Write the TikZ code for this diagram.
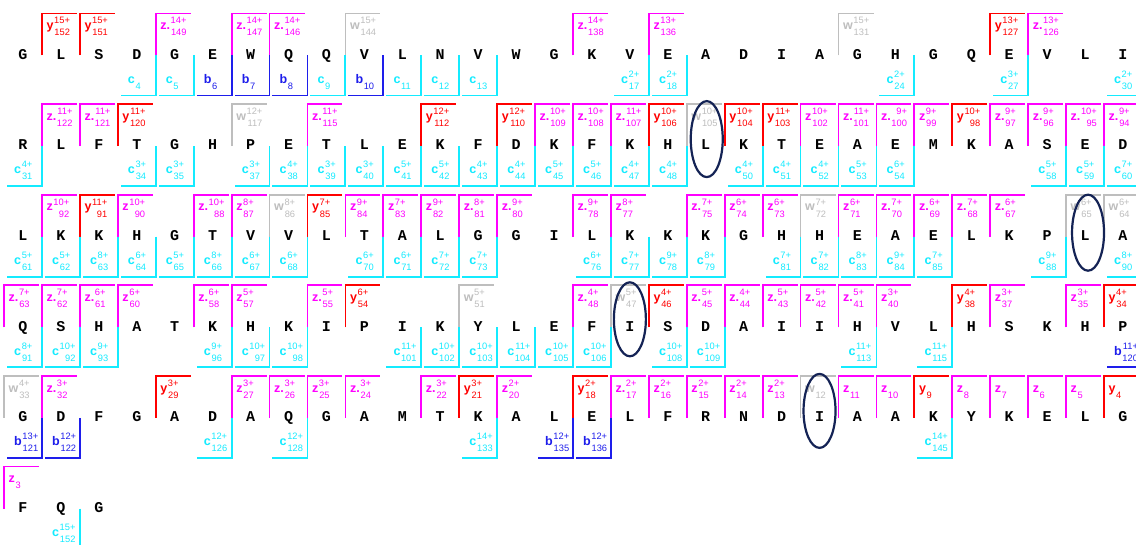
\documentclass[tikz,border=0pt]{standalone}
\usepackage{fontspec}
\setmainfont{Liberation Sans}
\newfontfamily\resfont{Liberation Mono}
\usetikzlibrary{calc}
\definecolor{colz}{RGB}{255,0,255}
\definecolor{colZ}{RGB}{255,0,255}
\definecolor{coly}{RGB}{255,0,0}
\definecolor{colw}{RGB}{190,190,190}
\definecolor{colc}{RGB}{20,235,255}
\definecolor{colb}{RGB}{30,30,235}
\definecolor{navy}{RGB}{20,35,85}
\def\ilz{z}\def\ilZ{z.}\def\ily{y}\def\ilw{w}\def\ilc{c}\def\ilb{b}
\newcommand{\ionlab}[3]{{\fontsize{12.5}{12}\selectfont\bfseries #1}\hspace{0.6pt}{\fontsize{9.3}{12}\selectfont\begin{tabular}{@{}r@{}}#2\\#3\end{tabular}}}
\newcommand{\seqrow}[4]{%
  \foreach \resl [count=\jj from 0] in {#2} {
    \coordinate (p#1-\jj) at (23+37.93*\jj, 54.5+90.6*#1);
    \node[res] (r#1-\jj) at (p#1-\jj) {\resl};
  }
  \foreach \jj/\tp/\qq/\nn in {#3} {
    \draw[br, color=col\tp] ($(p#1-\jj)+(-18.95,1)$) -- ++(0,-42) -- ++(35,0);
    \node[lab, color=col\tp] (ct#1-\jj) at ($(p#1-\jj)+(-14.5,-27)$) {\ionlab{\csname il\tp\endcsname}{\qq}{\nn}};
  }
  \foreach \jj/\tp/\qq/\nn in {#4} {
    \draw[br, color=col\tp] ($(p#1-\jj)+(18.95,1)$) -- ++(0,40) -- ++(-35,0);
    \node[lab, color=col\tp] (nt#1-\jj) at ($(p#1-\jj)+(-9,26.5)$) {\ionlab{\csname il\tp\endcsname}{\qq}{\nn}};
  }
}
\begin{document}
\begin{tikzpicture}[x=1pt,y=-1pt,
  res/.style={font=\resfont\bfseries\fontsize{15}{15}\selectfont, inner sep=0pt, text height=9.6pt, text depth=0pt},
  br/.style={line width=1.8pt, line join=miter},
  lab/.style={inner sep=0pt, anchor=west},
  ell/.style={draw=navy, line width=2.2pt}]
\useasboundingbox (0,0) rectangle (1136,545);
\fill[white] (0,0) rectangle (1136,545);
\clip (0,0) rectangle (1136,545);
\seqrow{0}{G,L,S,D,G,E,W,Q,Q,V,L,N,V,W,G,K,V,E,A,D,I,A,G,H,G,Q,E,V,L,I}
{1/y/15+/152, 2/y/15+/151, 4/Z/14+/149, 6/Z/14+/147, 7/Z/14+/146, 9/w/15+/144, 15/Z/14+/138, 17/z/13+/136, 22/w/15+/131, 26/y/13+/127, 27/Z/13+/126}
{3/c/{}/4, 4/c/{}/5, 5/b/{}/6, 6/b/{}/7, 7/b/{}/8, 8/c/{}/9, 9/b/{}/10, 10/c/{}/11, 11/c/{}/12, 12/c/{}/13, 16/c/2+/17, 17/c/2+/18, 23/c/2+/24, 26/c/3+/27, 29/c/2+/30}
\seqrow{1}{R,L,F,T,G,H,P,E,T,L,E,K,F,D,K,F,K,H,L,K,T,E,A,E,M,K,A,S,E,D}
{1/Z/11+/122, 2/Z/11+/121, 3/y/11+/120, 6/w/12+/117, 8/Z/11+/115, 11/y/12+/112, 13/y/12+/110, 14/Z/10+/109, 15/Z/10+/108, 16/Z/11+/107, 17/y/10+/106, 18/w/10+/105, 19/y/10+/104, 20/y/11+/103, 21/z/10+/102, 22/Z/11+/101, 23/Z/9+/100, 24/z/9+/99, 25/y/10+/98, 26/Z/9+/97, 27/Z/9+/96, 28/Z/10+/95, 29/Z/9+/94}
{0/c/4+/31, 3/c/3+/34, 4/c/3+/35, 6/c/3+/37, 7/c/4+/38, 8/c/3+/39, 9/c/3+/40, 10/c/5+/41, 11/c/5+/42, 12/c/4+/43, 13/c/4+/44, 14/c/5+/45, 15/c/5+/46, 16/c/4+/47, 17/c/4+/48, 19/c/4+/50, 20/c/4+/51, 21/c/4+/52, 22/c/5+/53, 23/c/6+/54, 27/c/5+/58, 28/c/5+/59, 29/c/7+/60}
\seqrow{2}{L,K,K,H,G,T,V,V,L,T,A,L,G,G,I,L,K,K,K,G,H,H,E,A,E,L,K,P,L,A}
{1/z/10+/92, 2/y/11+/91, 3/z/10+/90, 5/Z/10+/88, 6/z/8+/87, 7/w/8+/86, 8/y/7+/85, 9/z/9+/84, 10/z/7+/83, 11/z/9+/82, 12/Z/8+/81, 13/Z/9+/80, 15/Z/9+/78, 16/z/8+/77, 18/Z/7+/75, 19/z/6+/74, 20/z/6+/73, 21/w/7+/72, 22/z/6+/71, 23/Z/7+/70, 24/Z/6+/69, 25/Z/7+/68, 26/Z/6+/67, 28/w/6+/65, 29/w/6+/64}
{0/c/5+/61, 1/c/5+/62, 2/c/8+/63, 3/c/6+/64, 4/c/5+/65, 5/c/8+/66, 6/c/6+/67, 7/c/6+/68, 9/c/6+/70, 10/c/6+/71, 11/c/7+/72, 12/c/7+/73, 15/c/6+/76, 16/c/7+/77, 17/c/9+/78, 18/c/8+/79, 20/c/7+/81, 21/c/7+/82, 22/c/8+/83, 23/c/9+/84, 24/c/7+/85, 27/c/9+/88, 29/c/8+/90}
\seqrow{3}{Q,S,H,A,T,K,H,K,I,P,I,K,Y,L,E,F,I,S,D,A,I,I,H,V,L,H,S,K,H,P}
{0/Z/7+/63, 1/Z/7+/62, 2/Z/6+/61, 3/z/6+/60, 5/Z/6+/58, 6/z/5+/57, 8/Z/5+/55, 9/y/6+/54, 12/w/5+/51, 15/Z/4+/48, 16/w/5+/47, 17/y/4+/46, 18/Z/5+/45, 19/Z/4+/44, 20/Z/5+/43, 21/Z/5+/42, 22/Z/5+/41, 23/z/3+/40, 25/y/4+/38, 26/z/3+/37, 28/z/3+/35, 29/y/4+/34}
{0/c/8+/91, 1/c/10+/92, 2/c/9+/93, 5/c/9+/96, 6/c/10+/97, 7/c/10+/98, 10/c/11+/101, 11/c/10+/102, 12/c/10+/103, 13/c/11+/104, 14/c/10+/105, 15/c/10+/106, 17/c/10+/108, 18/c/10+/109, 22/c/11+/113, 24/c/11+/115, 29/b/11+/120}
\seqrow{4}{G,D,F,G,A,D,A,Q,G,A,M,T,K,A,L,E,L,F,R,N,D,I,A,A,K,Y,K,E,L,G}
{0/w/4+/33, 1/Z/3+/32, 4/y/3+/29, 6/z/3+/27, 7/Z/3+/26, 8/z/3+/25, 9/Z/3+/24, 11/Z/3+/22, 12/y/3+/21, 13/z/2+/20, 15/y/2+/18, 16/Z/2+/17, 17/z/2+/16, 18/z/2+/15, 19/z/2+/14, 20/z/2+/13, 21/w/{}/12, 22/z/{}/11, 23/z/{}/10, 24/y/{}/9, 25/z/{}/8, 26/z/{}/7, 27/z/{}/6, 28/z/{}/5, 29/y/{}/4}
{0/b/13+/121, 1/b/12+/122, 5/c/12+/126, 7/c/12+/128, 12/c/14+/133, 14/b/12+/135, 15/b/12+/136, 24/c/14+/145}
\seqrow{5}{F,Q,G}{0/z/{}/3}{1/c/15+/152}
\draw[ell] ($(p1-18)+(1,-6)$) ellipse [x radius=16pt, y radius=38pt];
\draw[ell] ($(p2-28)+(3,-3)$) ellipse [x radius=16pt, y radius=38pt];
\draw[ell] ($(p3-16)+(0,-7)$) ellipse [x radius=16pt, y radius=37pt];
\draw[ell] ($(p4-21)+(0,-6)$) ellipse [x radius=16pt, y radius=37pt];
\end{tikzpicture}
\end{document}
